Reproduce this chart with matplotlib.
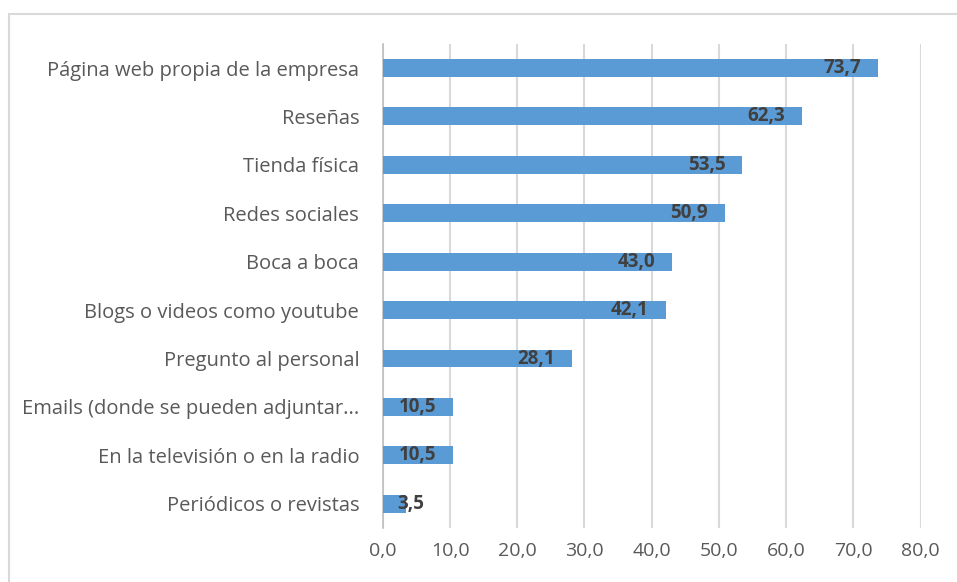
import matplotlib.pyplot as plt
from matplotlib.patches import Rectangle
from matplotlib.ticker import FuncFormatter

categorias = [
    "Página web propia de la empresa",
    "Reseñas",
    "Tienda física",
    "Redes sociales",
    "Boca a boca",
    "Blogs o videos como youtube",
    "Pregunto al personal",
    "Emails (donde se pueden adjuntar...",
    "En la televisión o en la radio",
    "Periódicos o revistas",
]
porcentajes = [73.7, 62.3, 53.5, 50.9, 43.0, 42.1, 28.1, 10.5, 10.5, 3.5]
ticks_x = [0, 10, 20, 30, 40, 50, 60, 70, 80]

plt.rcParams['font.family'] = ['Open Sans', 'DejaVu Sans']

fig = plt.figure(figsize=(9.57, 5.82), dpi=100)
ax = fig.add_axes([0.400, 0.0928, 0.562, 0.8319])

# marco gris del gráfico
fig.patches.append(Rectangle((9 / 957, -0.1), 1.2, 1 - 14 / 582 + 0.1,
                             transform=fig.transFigure, fill=False,
                             edgecolor='#d9d9d9', linewidth=1.5))

y = list(range(len(categorias)))
ax.barh(y, porcentajes, height=0.37, color='#5b9bd5', zorder=3)
ax.set_ylim(len(categorias) - 0.5, -0.5)
ax.set_xlim(0, 80)
ax.set_xticks(ticks_x)
ax.xaxis.set_major_formatter(FuncFormatter(lambda v, p: f"{v:.1f}".replace('.', ',')))
ax.set_yticks(y)
ax.set_yticklabels(categorias, fontsize=14.5)

ax.grid(axis='x', color='#d9d9d9', linewidth=1.5, zorder=0)
for s in ['top', 'right', 'bottom']:
    ax.spines[s].set_visible(False)
ax.spines['left'].set_color('#bfbfbf')
ax.spines['left'].set_linewidth(1.2)
ax.tick_params(length=0, colors='#595959')
ax.tick_params(axis='x', labelsize=14, pad=10)
ax.tick_params(axis='y', pad=17)

for yi, v in zip(y, porcentajes):
    txt = f"{v:.1f}".replace('.', ',')
    if v < 6:
        ax.annotate(txt, (0, yi), xytext=(15, 0), textcoords='offset pixels',
                    ha='left', va='center', fontsize=13.5, fontweight='bold',
                    color='#404040', zorder=4)
    else:
        ax.annotate(txt, (v, yi), xytext=(-17, 0), textcoords='offset pixels',
                    ha='right', va='center', fontsize=13.5, fontweight='bold',
                    color='#404040', zorder=4)

fig.savefig('out.png', dpi=100)
